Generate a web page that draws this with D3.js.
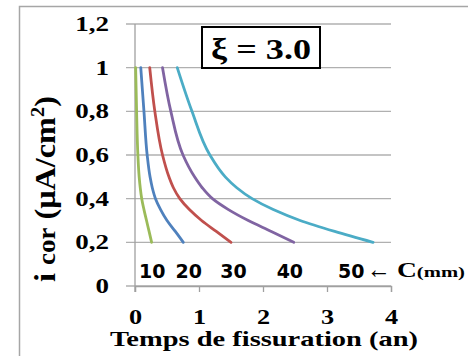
<!DOCTYPE html>
<html>
<head>
<meta charset="utf-8">
<script src="https://cdn.jsdelivr.net/npm/d3@7"></script>
<style>
  body { margin: 0; background: #fff; }
  svg { display: block; }
  .serif { font-family: "Liberation Serif", "Times New Roman", serif; font-weight: bold; }
  .sans { font-family: "DejaVu Sans", sans-serif; font-weight: bold; }
</style>
</head>
<body>
<div id="chart"></div>
<script>
// current density (y) shared by every curve
var icor = [1, 0.8, 0.6, 0.5, 0.45, 0.4, 0.35, 0.3, 0.25, 0.2]

// cracking time (years) for each cover depth C
var c10 = [0.01, 0.025, 0.045, 0.065, 0.082, 0.105, 0.14, 0.18, 0.22, 0.26]
var c20 = [0.09, 0.14, 0.19, 0.235, 0.27, 0.32, 0.4, 0.5, 0.63, 0.755]
var c30 = [0.23, 0.31, 0.43, 0.53, 0.6, 0.7, 0.85, 1.04, 1.27, 1.5]
var c40 = [0.43, 0.56, 0.75, 0.93, 1.05, 1.21, 1.46, 1.77, 2.13, 2.48]
var c50 = [0.66, 0.89, 1.17, 1.41, 1.59, 1.83, 2.16, 2.58, 3.12, 3.72]

var covers = ['10', '20', '30', '40', '50']
var coverLabelX = [0.27, 0.84, 1.54, 2.42, 3.38]
var colors = ['#9bbb59', '#4f81bd', '#c0504d', '#8064a2', '#4bacc6']

var xTicks = [0, 1, 2, 3, 4]
var yTicks = [0, 0.2, 0.4, 0.6, 0.8, 1, 1.2]

var svgWidth = 468
var svgHeight = 356

var margin = { top: 24, left: 135, right: 77, bottom: 70 }
var width = svgWidth - margin.left - margin.right
var height = svgHeight - margin.top - margin.bottom

// the original picture is a bit wider than tall, so text looks stretched
function stretch(sel, k) {
  sel.each(function() {
    var w = this.getComputedTextLength()
    d3.select(this).attr('textLength', w * k).attr('lengthAdjust', 'spacingAndGlyphs')
  })
}

var svg = d3.select('#chart')
  .append('svg')
  .attr('width', svgWidth)
  .attr('height', svgHeight)

// outer chart frame (runs off the right and bottom edges)
svg.append('rect')
  .attr('x', 19.5)
  .attr('y', 6.5)
  .attr('width', 470)
  .attr('height', 370)
  .attr('fill', 'none')
  .attr('stroke', '#a6a6a6')
  .attr('stroke-width', 1.5)

var chartGroup = svg.append('g')
  .attr('transform', `translate(${margin.left}, ${margin.top})`)

var xScale = d3.scaleLinear().domain([0, 4]).range([0, width])
var yScale = d3.scaleLinear().domain([0, 1.2]).range([height, 0])

// horizontal gridlines, starting at the tick stubs left of the axis
chartGroup.append('g')
  .selectAll('line')
  .data(yTicks)
  .enter()
  .append('line')
  .attr('x1', -9)
  .attr('x2', width)
  .attr('y1', d => yScale(d))
  .attr('y2', d => yScale(d))
  .attr('stroke', '#b0b0b0')
  .attr('stroke-width', 1.3)

// x axis
var xAxis = d3.axisBottom(xScale).tickValues(xTicks).tickSize(6).tickPadding(17)
  .tickFormat(d3.format('d'))
var xg = chartGroup.append('g')
  .attr('transform', `translate(0, ${height})`)
  .call(xAxis)
xg.attr('font-family', null)
xg.select('.domain').attr('stroke', '#a0a0a0').attr('stroke-width', 1.3)
xg.selectAll('.tick line').attr('stroke', '#a0a0a0').attr('stroke-width', 1.3)
xg.selectAll('.tick text')
  .attr('class', 'serif')
  .attr('font-size', 21)
  .attr('fill', '#000')
  .call(stretch, 1.25)

// y axis
var yAxis = d3.axisLeft(yScale).tickValues(yTicks).tickSize(0).tickPadding(26)
  .tickFormat(d => String(d).replace('.', ','))
var yg = chartGroup.append('g').call(yAxis)
yg.attr('font-family', null)
yg.select('.domain').remove()
yg.selectAll('.tick text')
  .attr('class', 'serif')
  .attr('font-size', 20)
  .attr('fill', '#000')
  .call(stretch, 1.35)

chartGroup.append('line')
  .attr('x1', 0).attr('x2', 0)
  .attr('y1', 0).attr('y2', height + 6)
  .attr('stroke', '#a0a0a0')
  .attr('stroke-width', 1.3)

// curves: time is a smooth function of current density, so interpolate along y
var series = [c10, c20, c30, c40, c50]
var line = d3.line()
  .x(d => xScale(d[0]))
  .y(d => yScale(d[1]))
  .curve(d3.curveMonotoneY)

chartGroup.selectAll('.curve')
  .data(series)
  .enter()
  .append('path')
  .attr('class', 'curve')
  .attr('d', s => line(s.map((t, i) => [t, icor[i]])))
  .attr('fill', 'none')
  .attr('stroke', (s, i) => colors[i])
  .attr('stroke-width', 2.8)
  .attr('stroke-linecap', 'round')

// cover depth labels
chartGroup.selectAll('.cover')
  .data(covers)
  .enter()
  .append('text')
  .attr('class', 'sans')
  .attr('x', (d, i) => xScale(coverLabelX[i]))
  .attr('y', yScale(0) - 8)
  .attr('text-anchor', 'middle')
  .attr('font-size', 19)
  .text(d => d)

chartGroup.append('text')
  .attr('class', 'serif')
  .attr('x', 232)
  .attr('y', yScale(0) - 8)
  .attr('font-size', 26)
  .attr('textLength', 24)
  .attr('lengthAdjust', 'spacingAndGlyphs')
  .text('\u2190')

var cLabel = chartGroup.append('text')
  .attr('class', 'serif')
  .attr('x', 262)
  .attr('y', yScale(0) - 9)
cLabel.append('tspan').attr('font-size', 20).text('C')
cLabel.append('tspan').attr('font-size', 15).text('(mm)')
cLabel.attr('textLength', 68).attr('lengthAdjust', 'spacingAndGlyphs')

// xi box
svg.append('rect')
  .attr('x', 202)
  .attr('y', 27)
  .attr('width', 118)
  .attr('height', 41)
  .attr('fill', '#fff')
  .attr('stroke', '#000')
  .attr('stroke-width', 2)

svg.append('text')
  .attr('class', 'serif')
  .attr('x', 211)
  .attr('y', 59)
  .attr('font-size', 29)
  .attr('textLength', 100)
  .attr('lengthAdjust', 'spacingAndGlyphs')
  .text('\u03be = 3.0')

// axis titles
svg.append('text')
  .attr('class', 'serif')
  .attr('x', 110)
  .attr('y', 346)
  .attr('font-size', 21)
  .attr('textLength', 308)
  .attr('lengthAdjust', 'spacingAndGlyphs')
  .text('Temps de fissuration (an)')

var yTitle = svg.append('text')
  .attr('class', 'serif')
  .attr('transform', 'translate(55, 282) rotate(-90)')
  .attr('font-size', 30)
yTitle.append('tspan').text('i ')
yTitle.append('tspan').attr('font-size', 25).text('cor')
yTitle.append('tspan').text(' (\u03bcA/cm')
yTitle.append('tspan').attr('font-size', 19).attr('dy', -11).text('2')
yTitle.append('tspan').attr('dy', 11).text(')')
yTitle.attr('textLength', 186).attr('lengthAdjust', 'spacingAndGlyphs')
</script>
</body>
</html>
